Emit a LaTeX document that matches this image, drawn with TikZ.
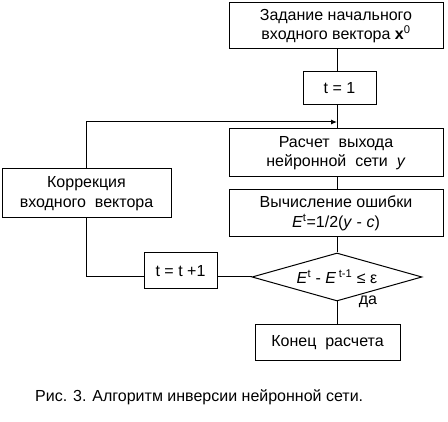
\documentclass[tikz,border=0pt]{standalone}
\usepackage{fontspec}
\setmainfont{Liberation Sans}
\usetikzlibrary{shapes.geometric,arrows.meta}
\begin{document}
\begin{tikzpicture}[x=1pt,y=1pt,
  box/.style={draw, line width=1pt, inner sep=0pt, align=center, font=\fontsize{16}{19.5}\selectfont},
  conn/.style={line width=1pt},
  lbl/.style={font=\fontsize{16}{19.5}\selectfont, inner sep=0pt}]
\fill[white] (0,0) rectangle (448,422);
\useasboundingbox (0,0) rectangle (448,422);
\node[box, minimum width=214pt, minimum height=46pt] (b1) at (336,396) {Задание начального\\входного вектора {\bfseries x}\textsuperscript{0}};
\node[box, minimum width=73pt, minimum height=33pt] (t1) at (339.5,333.5) {t = 1};
\node[box, minimum width=214pt, minimum height=48pt] (b3) at (336,269) {Расчет\ \ выхода\\нейронной\ \ сети\ \ \textit{y}};
\node[box, minimum width=214pt, minimum height=47pt] (b4) at (336,208.5) {Вычисление ошибки\\\textit{E}\textsuperscript{t}=1/2(\textit{y} - \textit{c})};
\node[box, shape=diamond, shape aspect=3.5, minimum width=170pt, minimum height=48pt] (dia) at (337,145) {\textit{E}\textsuperscript{t} - \textit{E}\,\textsuperscript{t-1} ≤ ε};
\node[box, minimum width=145pt, minimum height=36pt] (endb) at (327.5,79) {Конец\ \ расчета};
\node[box, minimum width=169pt, minimum height=49pt] (corr) at (86.5,228.5) {Коррекция\\входного\ \ вектора};
\node[box, minimum width=73pt, minimum height=36pt] (tt) at (180.5,151) {t = t +1};
\node[lbl] (yes) at (368,120.5) {да};
\node[lbl, anchor=west] (cap) at (35,25) {Рис. 3. Алгоритм инверсии нейронной сети.};
\coordinate (mrg) at (337,300);
\draw[conn] (b1.south -| dia.north) -- (t1.north -| dia.north);
\draw[conn] (t1.south -| dia.north) -- (b3.north -| dia.north);
\draw[conn] (b3.south -| dia.north) -- (b4.north -| dia.north);
\draw[conn] (b4.south -| dia.north) -- (dia.north);
\draw[conn] (dia.south) -- (endb.north -| dia.south);
\draw[conn] (dia.west) -- (dia.west -| tt.east);
\draw[conn] (tt.west |- dia.west) -- (corr.south |- dia.west) -- (corr.south);
\draw[conn, -{Latex[length=6pt,width=5pt]}] (corr.north) -- (corr.north |- mrg) -- (mrg);
\end{tikzpicture}
\end{document}
